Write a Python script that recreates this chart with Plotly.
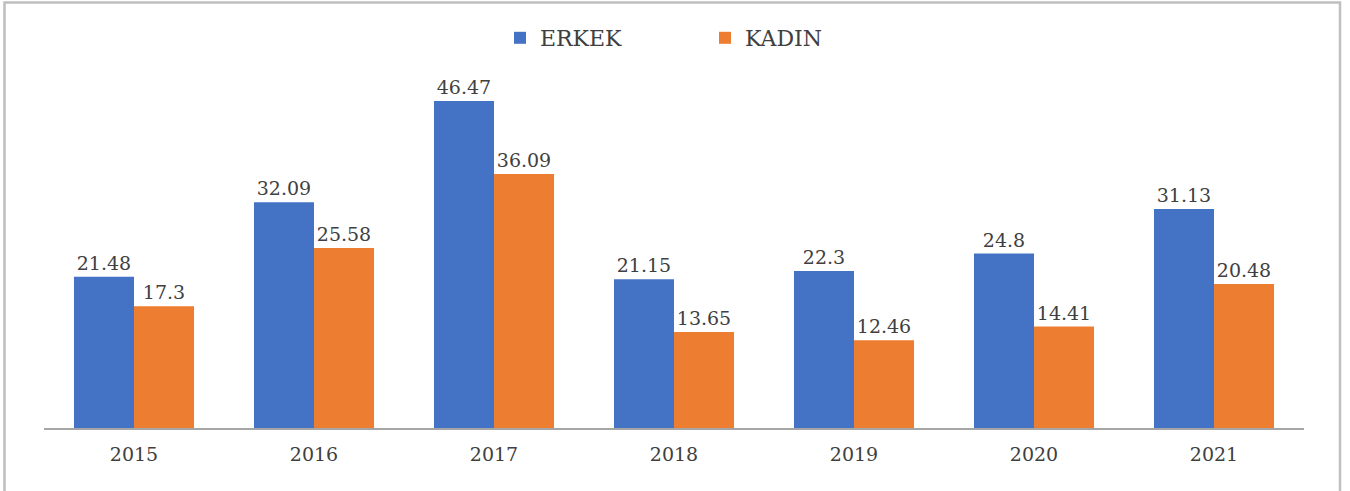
import plotly.graph_objects as go

years = ["2015", "2016", "2017", "2018", "2019", "2020", "2021"]
erkek = [21.48, 32.09, 46.47, 21.15, 22.3, 24.8, 31.13]
kadin = [17.3, 25.58, 36.09, 13.65, 12.46, 14.41, 20.48]

FONT = "DejaVu Serif"
TXT = "#404040"

fig = go.Figure()
fig.add_trace(go.Bar(x=years, y=erkek, name="ERKEK", marker_color="#4472C4",
                     marker_line_width=0,
                     text=[str(v) for v in erkek], textposition="outside",
                     textfont=dict(family=FONT, size=19, color=TXT), cliponaxis=False))
fig.add_trace(go.Bar(x=years, y=kadin, name="KADIN", marker_color="#ED7D31",
                     marker_line_width=0,
                     text=[str(v) for v in kadin], textposition="outside",
                     textfont=dict(family=FONT, size=19, color=TXT), cliponaxis=False))

L, R, T, B = 44, 46, 60, 63
W, H = 1350, 491
pw, ph = W - L - R, H - T - B

def px(x):
    return (x - L) / pw

def py(y):
    return (H - B - y) / ph

fig.update_layout(
    width=W, height=H,
    margin=dict(l=L, r=R, t=T, b=B),
    paper_bgcolor="white", plot_bgcolor="white",
    barmode="group", bargap=0.333, bargroupgap=0,
    font=dict(family=FONT, color=TXT, size=19),
    showlegend=True,
    legend=dict(orientation="h", x=px(500), xanchor="left", y=py(38), yanchor="middle",
                font=dict(family=FONT, size=22, color=TXT), itemsizing="constant",
                traceorder="normal", entrywidth=160, entrywidthmode="pixels"),
    xaxis=dict(showline=True, linecolor="#A6A6A6", linewidth=1.5, ticks="",
               tickfont=dict(family=FONT, size=19, color=TXT), showgrid=False,
               ticklabelstandoff=8),
    yaxis=dict(range=[0, 52.3], visible=False, showgrid=False),
    shapes=[dict(type="rect", xref="paper", yref="paper",
                 x0=px(4.5), x1=px(1340), y0=py(520), y1=py(2.5),
                 line=dict(color="#BFBFBF", width=2.5), fillcolor="rgba(0,0,0,0)",
                 layer="below")],
)

fig.write_html("out.html", config={"displayModeBar": False},
               post_script="document.body.style.margin='0';document.body.style.overflow='hidden';")
